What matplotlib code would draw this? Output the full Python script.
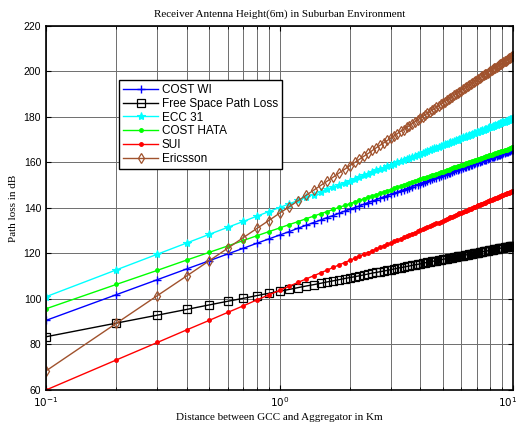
import matplotlib
matplotlib.use("Agg")
import matplotlib.pyplot as plt
import matplotlib.transforms as mtransforms
import numpy as np

# distance samples in km (0.1 .. 10.0, step 0.1)
distance = np.arange(1, 101) / 10

cost_wi = [
    90.6, 101.9, 108.5, 113.2, 116.8, 119.8, 122.3, 124.5, 126.4, 128.1,
    129.6, 131.1, 132.4, 133.6, 134.7, 135.8, 136.7, 137.7, 138.6, 139.4,
    140.2, 140.9, 141.7, 142.4, 143.0, 143.7, 144.3, 144.9, 145.4, 146.0,
    146.5, 147.0, 147.6, 148.0, 148.5, 149.0, 149.4, 149.9, 150.3, 150.7,
    151.1, 151.5, 151.8, 152.2, 152.6, 153.0, 153.3, 153.6, 154.0, 154.3,
    154.7, 155.0, 155.3, 155.6, 155.9, 156.2, 156.5, 156.7, 157.0, 157.3,
    157.5, 157.8, 158.1, 158.3, 158.6, 158.9, 159.1, 159.3, 159.6, 159.8,
    160.0, 160.2, 160.5, 160.7, 160.9, 161.1, 161.3, 161.6, 161.8, 162.0,
    162.2, 162.4, 162.6, 162.8, 162.9, 163.1, 163.4, 163.5, 163.7, 163.9,
    164.1, 164.3, 164.4, 164.6, 164.8, 164.9, 165.1, 165.3, 165.5, 165.6,
]

free_space = [
    83.4, 89.4, 92.9, 95.4, 97.4, 99.0, 100.3, 101.5, 102.5, 103.4,
    104.2, 105.0, 105.7, 106.3, 106.9, 107.5, 108.0, 108.5, 109.0, 109.4,
    109.8, 110.2, 110.6, 111.0, 111.4, 111.7, 112.0, 112.3, 112.6, 112.9,
    113.2, 113.5, 113.8, 114.0, 114.3, 114.5, 114.8, 115.0, 115.2, 115.4,
    115.7, 115.9, 116.1, 116.3, 116.5, 116.7, 116.8, 117.0, 117.2, 117.4,
    117.6, 117.7, 117.9, 118.0, 118.2, 118.4, 118.5, 118.7, 118.8, 119.0,
    119.1, 119.2, 119.4, 119.5, 119.7, 119.8, 119.9, 120.1, 120.2, 120.3,
    120.4, 120.5, 120.7, 120.8, 120.9, 121.0, 121.1, 121.2, 121.4, 121.5,
    121.6, 121.7, 121.8, 121.9, 122.0, 122.1, 122.2, 122.3, 122.4, 122.5,
    122.6, 122.7, 122.8, 122.9, 123.0, 123.0, 123.1, 123.2, 123.3, 123.4,
]

ecc_31 = [
    101.0, 112.8, 119.7, 124.6, 128.4, 131.5, 134.1, 136.4, 138.4, 140.2,
    141.8, 143.3, 144.7, 145.9, 147.1, 148.2, 149.2, 150.2, 151.1, 152.0,
    152.8, 153.6, 154.4, 155.1, 155.8, 156.5, 157.1, 157.7, 158.3, 158.9,
    159.4, 160.0, 160.5, 161.0, 161.5, 162.0, 162.5, 162.9, 163.4, 163.8,
    164.2, 164.6, 165.0, 165.4, 165.8, 166.2, 166.5, 166.9, 167.3, 167.6,
    168.0, 168.3, 168.6, 168.9, 169.2, 169.5, 169.8, 170.1, 170.4, 170.7,
    171.0, 171.3, 171.5, 171.8, 172.1, 172.3, 172.6, 172.9, 173.1, 173.3,
    173.6, 173.8, 174.0, 174.3, 174.5, 174.7, 174.9, 175.2, 175.4, 175.6,
    175.8, 176.0, 176.2, 176.4, 176.6, 176.8, 177.1, 177.2, 177.4, 177.6,
    177.8, 178.0, 178.1, 178.3, 178.5, 178.7, 178.9, 179.0, 179.2, 179.4,
]

cost_hata = [
    95.7, 106.4, 112.6, 117.1, 120.5, 123.3, 125.7, 127.8, 129.6, 131.2,
    132.7, 134.0, 135.3, 136.4, 137.5, 138.4, 139.4, 140.3, 141.1, 141.9,
    142.6, 143.3, 144.1, 144.7, 145.3, 145.9, 146.5, 147.1, 147.6, 148.1,
    148.6, 149.1, 149.6, 150.1, 150.5, 150.9, 151.4, 151.8, 152.2, 152.6,
    153.0, 153.3, 153.7, 154.0, 154.4, 154.7, 155.1, 155.4, 155.7, 156.0,
    156.3, 156.6, 156.9, 157.2, 157.5, 157.8, 158.0, 158.3, 158.6, 158.8,
    159.1, 159.3, 159.6, 159.8, 160.1, 160.3, 160.5, 160.8, 161.0, 161.2,
    161.4, 161.6, 161.8, 162.1, 162.3, 162.5, 162.7, 162.9, 163.1, 163.3,
    163.4, 163.7, 163.8, 164.0, 164.2, 164.4, 164.6, 164.7, 164.9, 165.1,
    165.2, 165.4, 165.6, 165.7, 165.9, 166.1, 166.2, 166.4, 166.6, 166.7,
]

sui = [
    60.0, 73.2, 80.9, 86.4, 90.6, 94.1, 97.0, 99.6, 101.8, 103.8,
    105.6, 107.3, 108.8, 110.2, 111.5, 112.7, 113.9, 115.0, 116.0, 117.0,
    117.9, 118.8, 119.7, 120.4, 121.2, 122.0, 122.7, 123.4, 124.0, 124.7,
    125.3, 125.9, 126.5, 127.1, 127.6, 128.2, 128.7, 129.2, 129.7, 130.2,
    130.6, 131.1, 131.5, 132.0, 132.4, 132.8, 133.2, 133.6, 134.0, 134.4,
    134.8, 135.2, 135.5, 135.9, 136.2, 136.6, 136.9, 137.2, 137.6, 137.9,
    138.2, 138.5, 138.8, 139.1, 139.4, 139.7, 140.0, 140.3, 140.5, 140.8,
    141.1, 141.3, 141.6, 141.9, 142.1, 142.4, 142.6, 142.9, 143.1, 143.4,
    143.6, 143.8, 144.1, 144.3, 144.5, 144.7, 145.0, 145.2, 145.4, 145.6,
    145.8, 146.0, 146.2, 146.4, 146.6, 146.8, 147.0, 147.2, 147.4, 147.6,
]

ericsson = [
    68.4, 89.3, 101.5, 110.1, 116.8, 122.3, 127.0, 131.0, 134.5, 137.7,
    140.5, 143.2, 145.6, 147.8, 149.9, 151.8, 153.6, 155.4, 157.0, 158.6,
    160.0, 161.4, 162.8, 164.0, 165.3, 166.5, 167.6, 168.7, 169.7, 170.8,
    171.7, 172.7, 173.7, 174.5, 175.4, 176.2, 177.1, 177.9, 178.7, 179.4,
    180.2, 180.9, 181.6, 182.3, 183.0, 183.6, 184.3, 184.9, 185.5, 186.1,
    186.8, 187.3, 187.9, 188.4, 189.0, 189.5, 190.1, 190.6, 191.1, 191.6,
    192.1, 192.6, 193.1, 193.6, 194.0, 194.5, 194.9, 195.4, 195.8, 196.3,
    196.7, 197.1, 197.5, 197.9, 198.3, 198.8, 199.1, 199.5, 199.9, 200.3,
    200.6, 201.0, 201.4, 201.7, 202.1, 202.4, 202.8, 203.1, 203.5, 203.8,
    204.2, 204.5, 204.8, 205.1, 205.5, 205.8, 206.1, 206.4, 206.7, 207.0,
]

x_ticks = [0.1, 1, 10]
x_ticklabels = ['$10^{-1}$', '$10^{0}$', '$10^{1}$']

plt.rcParams['font.family'] = ['Liberation Sans', 'DejaVu Sans']

fig = plt.figure(figsize=(5.2, 4.24), dpi=100)
ax = fig.add_axes([0.0885, 0.0802, 0.898, 0.8585])

ax.plot(distance, cost_wi, color='blue', marker='+', ms=6, mew=1, lw=1, label='COST WI')
ax.plot(distance, free_space, color='black', marker='s', ms=5.5, mfc='none', mew=0.9, lw=1,
        label='Free Space Path Loss')
ax.plot(distance, ecc_31, color='cyan', marker='*', ms=6, mew=0.8, lw=1, label='ECC 31')
ax.plot(distance, cost_hata, color='#00ff00', marker='.', ms=5, lw=1, label='COST HATA')
ax.plot(distance, sui, color='red', marker='.', ms=5, lw=1, label='SUI')
ax.plot(distance, ericsson, color='#a0522d', marker='d', ms=5.5, mfc='none', mew=0.9, lw=1,
        label='Ericsson')

ax.set_xscale('log')
ax.set_xlim(0.1, 10)
ax.set_ylim(60, 220)
ax.set_xticks(x_ticks, x_ticklabels)
ax.set_yticks(np.arange(60, 221, 20))

ax.grid(True, which='major', color='#6e6e6e', lw=0.7)
ax.grid(True, which='minor', axis='x', color='#6e6e6e', lw=0.7)
ax.tick_params(which='both', direction='in', top=True, right=True, labelsize=7.5)
for s in ax.spines.values():
    s.set_linewidth(1.2)

# nudge the last x tick label so it stays inside the figure
last = ax.get_xticklabels()[-1]
last.set_transform(last.get_transform() + mtransforms.ScaledTranslation(-4 / 72, 0, fig.dpi_scale_trans))

serif = ['Liberation Serif', 'DejaVu Serif']
ax.set_title('Receiver Antenna Height(6m) in Suburban Environment', fontsize=8, family=serif, pad=7)
ax.set_xlabel('Distance between GCC and Aggregator in Km', fontsize=8, family=serif, labelpad=3)
ax.set_ylabel('Path loss in dB', fontsize=8, family=serif, labelpad=4)

leg = ax.legend(loc='upper left', bbox_to_anchor=(0.156, 0.852), fontsize=8.5, fancybox=False,
                edgecolor='black', framealpha=1, borderaxespad=0, handlelength=3.0,
                labelspacing=0.15, borderpad=0.35, handletextpad=0.3)
leg.get_frame().set_linewidth(1)

fig.savefig('out.png', dpi=100)
plt.close()
